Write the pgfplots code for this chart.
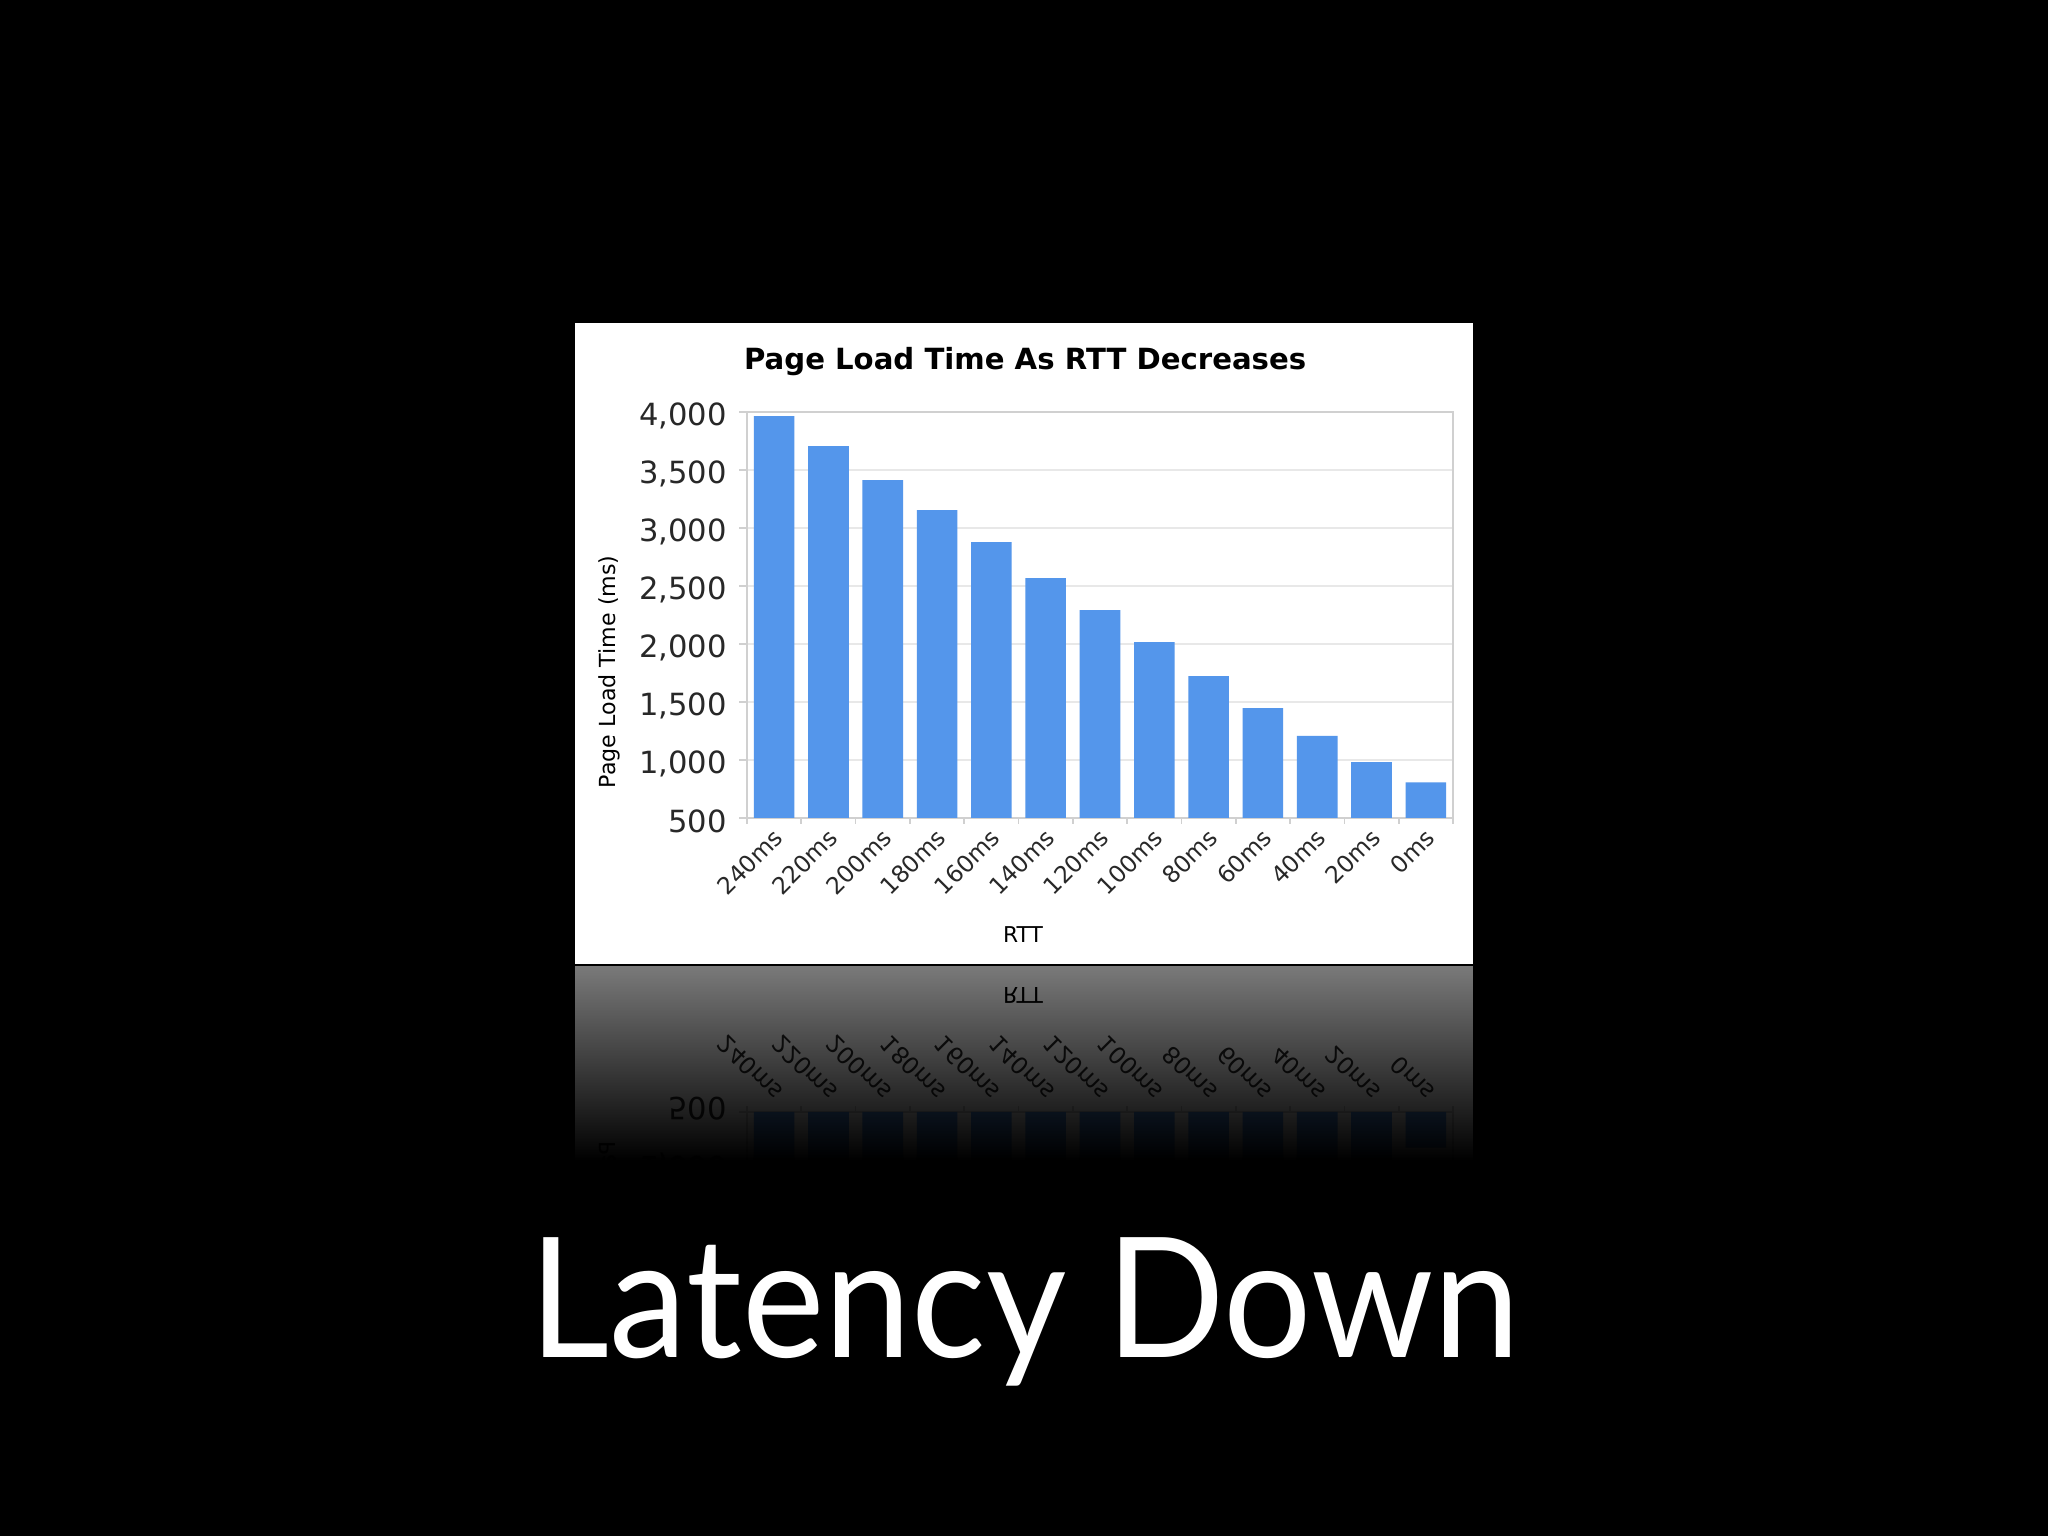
\documentclass[border=0pt]{standalone}
\usepackage{fontspec}
\setmainfont{DejaVu Sans}
\newfontfamily\gill{Lato}
\usepackage{pgfplots}
\usepackage{pgfplotstable}
\pgfplotsset{compat=1.18}
\usetikzlibrary{fadings}
\definecolor{barblue}{RGB}{84,150,235}
\definecolor{gridgray}{RGB}{232,232,232}
\definecolor{axgray}{RGB}{208,208,208}
\definecolor{txtgray}{RGB}{40,40,40}
\tikzfading[name=reflfade, top color=transparent!48, bottom color=transparent!0]

\pgfplotstableread{
x y
0 3964
1 3706
2 3412
3 3155
4 2879
5 2567
6 2292
7 2016
8 1722
9 1447
10 1207
11 982
12 808
}\rtt

\pgfplotsset{rttstyle/.style={
  scale only axis, width=7.06cm, height=4.06cm,
  xmin=-0.5, xmax=12.5,
  xtick={0,...,12},
  xticklabels={240ms,220ms,200ms,180ms,160ms,140ms,120ms,100ms,80ms,60ms,40ms,20ms,0ms},
  major x tick style={draw=none},
  minor xtick={-0.5,0.5,...,12.5},
  minor x tick style={axgray, line width=0.5pt},
  minor tick length=1.6pt,
  major tick length=2.2pt,
  y tick style={axgray, line width=0.6pt},
  tick align=outside,
  ytick pos=left,
  ymajorgrids, grid style={gridgray, line width=0.7pt},
  axis line style={axgray, line width=0.6pt},
  /pgf/number format/assume math mode=true,
  /pgf/number format/1000 sep={,},
  tick label style={txtgray},
  yticklabel style={font=\fontsize{8.7}{10}\selectfont},
  xlabel={RTT},
  ylabel={Page Load Time (ms)},
  clip=true,
}}

\begin{document}
\begin{tikzpicture}
\fill[black] (0,0) rectangle (20.48,15.36);
\fill[white] (5.75,5.71) rectangle (14.73,12.13);

\begin{axis}[rttstyle,
  at={(11.00cm,9.21cm)}, anchor=center,
  ymin=500, ymax=4000, ytick={500,1000,...,4000},
  xtick pos=bottom,
  title={Page Load Time As RTT Decreases},
  every axis title/.style={at={(axis description cs:0.394,1.123)}, anchor=center, font=\bfseries\fontsize{8.3}{10}\selectfont, black},
  xticklabel style={font=\fontsize{6.7}{8}\selectfont, xshift=-0.6pt, yshift=4.5pt, rotate=45, anchor=north east},
  yticklabel style={xshift=0pt, yshift=-1pt},
  xlabel style={at={(axis description cs:0.391,-0.288)}, anchor=center, font=\fontsize{6.2}{8}\selectfont, black},
  every axis y label/.style={at={(axis description cs:-0.1948,0.36)}, rotate=90, anchor=center, font=\fontsize{6.3}{8}\selectfont, black},
]
\addplot[ybar, fill=barblue, draw=none, bar width=0.406cm] table[x=x, y=y] {\rtt};
\end{axis}

\begin{scope}
\clip (5.75,3.76) rectangle (14.73,5.71);
\fill[white] (5.75,3.76) rectangle (14.73,5.71);
\begin{axis}[rttstyle,
  at={(11.00cm,2.21cm)}, anchor=center,
  ymin=-4000, ymax=-500, ytick={-4000,-3500,...,-500},
  yticklabels={{4,000},{3,500},{3,000},{2,500},{2,000},{1,500},{1,000},500},
  xtick pos=top, xticklabel pos=top,
  xticklabel style={font=\fontsize{6.7}{8}\selectfont, xshift=-0.6pt, yshift=-4.5pt, rotate=-45, yscale=-1, anchor=north east},
  yticklabel style={xshift=0pt, yshift=1pt, yscale=-1},
  xlabel style={at={(axis description cs:0.391,1.288)}, anchor=center, font=\fontsize{6.2}{8}\selectfont, black, yscale=-1},
  every axis y label/.style={at={(axis description cs:-0.1948,0.64)}, rotate=-90, yscale=-1, anchor=center, font=\fontsize{6.3}{8}\selectfont, black},
]
\addplot[ybar, fill=barblue, draw=none, bar width=0.406cm] table[x=x, y expr=-\thisrow{y}] {\rtt};
\end{axis}
\fill[black, path fading=reflfade] (5.75,3.76) rectangle (14.73,5.71);
\end{scope}
\draw[black, line width=0.6pt] (5.75,5.71) -- (14.73,5.71);

\node[anchor=base, white, xscale=0.932, font=\gill\fontsize{47.6}{50}\selectfont] at (10.25,1.78) {Latency Down};
\end{tikzpicture}
\end{document}
